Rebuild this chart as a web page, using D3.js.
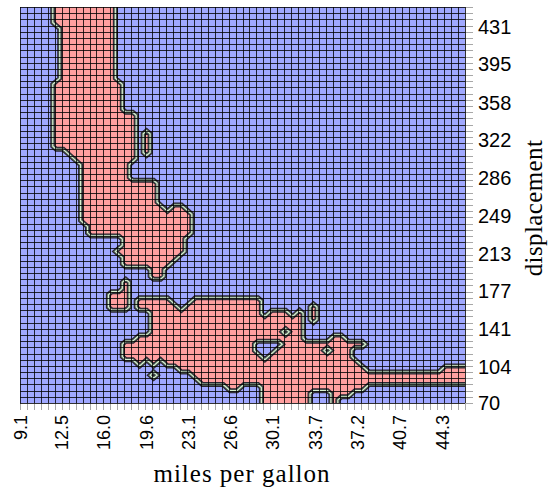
<!DOCTYPE html>
<html>
<head>
<meta charset="utf-8">
<script src="https://cdn.jsdelivr.net/npm/d3@7"></script>
<style>
  html, body { margin: 0; padding: 0; background: #fff; overflow: hidden; }
  svg { display: block; }
</style>
</head>
<body>
<div id="chart"></div>
<script>
const xTickLabels = ['9.1', '12.5', '16.0', '19.6', '23.1', '26.6', '30.1', '33.7', '37.2', '40.7', '44.3'];
const yTickLabels = ['70', '104', '141', '177', '213', '249', '286', '322', '358', '395', '431'];
const xRange = [9.058, 46.22];   // miles per gallon covered by the grid
const yRange = [69.7, 450.2];    // displacement covered by the grid
const gridCols = 64;
const gridRows = 64;

// cells classified red: [row (0 = top), first col, last col]
const redRuns = [
  [0, 5, 13], [1, 5, 13], [2, 5, 13],
  [3, 6, 13], [4, 6, 13], [5, 6, 13], [6, 6, 13], [7, 6, 13], [8, 6, 13], [9, 6, 13], [10, 6, 13], [11, 6, 13],
  [12, 5, 14], [13, 5, 14], [14, 5, 14], [15, 5, 14], [16, 5, 14],
  [17, 5, 16], [18, 5, 16], [19, 5, 16],
  [20, 5, 16], [20, 18, 18], [21, 5, 16], [21, 18, 18], [22, 5, 16], [22, 18, 18],
  [23, 7, 16], [23, 18, 18],
  [24, 8, 16],
  [25, 9, 15], [26, 9, 15], [27, 9, 15],
  [28, 9, 19], [29, 9, 19], [30, 9, 19], [31, 9, 19],
  [32, 9, 20], [32, 22, 23],
  [33, 9, 24], [34, 9, 24],
  [35, 10, 24], [36, 10, 24],
  [37, 15, 23], [38, 15, 23], [39, 14, 23], [40, 15, 22], [41, 15, 21],
  [42, 19, 20], [43, 19, 20],
  [44, 15, 15], [45, 15, 15],
  [46, 13, 15],
  [47, 13, 15], [47, 17, 21], [47, 25, 34],
  [48, 13, 15], [48, 17, 22], [48, 24, 34], [48, 42, 42],
  [49, 19, 34], [49, 36, 38], [49, 40, 40], [49, 42, 42],
  [50, 19, 40], [50, 42, 42],
  [51, 19, 40],
  [52, 19, 37], [52, 39, 40],
  [53, 17, 40], [53, 45, 46],
  [54, 15, 33], [54, 38, 49],
  [55, 15, 33], [55, 37, 43], [55, 45, 47],
  [56, 15, 34], [56, 36, 47],
  [57, 17, 17], [57, 19, 19], [57, 21, 48],
  [58, 23, 49], [58, 61, 63],
  [59, 19, 19], [59, 25, 63],
  [60, 26, 63],
  [61, 30, 31], [61, 35, 49],
  [62, 35, 41], [62, 45, 47],
  [63, 35, 41], [63, 45, 45]
];

const width = 548;
const height = 487;
const margin = { top: 7, right: 83, bottom: 84, left: 20 };
const innerWidth = width - margin.left - margin.right;
const innerHeight = height - margin.top - margin.bottom;
const blue = '#a0a8ff';
const red = '#ffa0a0';
const shiftX = -2; // class grid sits slightly left of the drawn grid

const x = d3.scaleLinear().domain(xRange).range([0, innerWidth]);
const y = d3.scaleLinear().domain(yRange).range([innerHeight, 0]);
const cellW = (xRange[1] - xRange[0]) / gridCols;
const cellH = (yRange[1] - yRange[0]) / gridRows;

// mask, padded by one cell on each side (edge values repeated) so contours run off the plot
const mask = Array.from({ length: gridRows }, () => new Array(gridCols).fill(0));
redRuns.forEach(([r, c0, c1]) => {
  for (let c = c0; c <= c1; c++) mask[r][c] = 1;
});
const pw = gridCols + 2, ph = gridRows + 2;
const values = new Array(pw * ph);
for (let r = 0; r < ph; r++) {
  for (let c = 0; c < pw; c++) {
    const rr = Math.min(gridRows - 1, Math.max(0, r - 1));
    const cc = Math.min(gridCols - 1, Math.max(0, c - 1));
    values[r * pw + c] = mask[rr][cc];
  }
}
const contours = d3.contours().size([pw, ph]).thresholds([0.5])(values);

const projection = d3.geoTransform({
  point: function (gx, gy) {
    this.stream.point(
      x(xRange[0] + (gx - 1) * cellW) + shiftX,
      y(yRange[1] - (gy - 1) * cellH)
    );
  }
});
const path = d3.geoPath(projection);

const svg = d3.select('#chart')
  .append('svg')
  .attr('width', width)
  .attr('height', height)
  .append('g')
  .attr('transform', `translate(${margin.left},${margin.top})`);

svg.append('clipPath').attr('id', 'plot-clip')
  .append('rect').attr('width', innerWidth).attr('height', innerHeight);

const plot = svg.append('g').attr('clip-path', 'url(#plot-clip)');

plot.append('rect')
  .attr('width', innerWidth)
  .attr('height', innerHeight)
  .attr('fill', blue);

plot.selectAll('path.fill')
  .data(contours)
  .enter()
  .append('path')
  .attr('class', 'fill')
  .attr('d', path)
  .attr('fill', red);

// grid lines, one per cell edge
const xEdges = d3.range(gridCols + 1).map(i => x(xRange[0] + i * cellW));
const yEdges = d3.range(gridRows + 1).map(j => y(yRange[0] + j * cellH));

svg.append('g')
  .selectAll('line')
  .data(xEdges)
  .enter()
  .append('line')
  .attr('x1', d => Math.round(d) + 0.5)
  .attr('x2', d => Math.round(d) + 0.5)
  .attr('y1', innerHeight)
  .attr('y2', innerHeight + 7)
  .attr('stroke', '#a8a8a8');

svg.append('g')
  .selectAll('line')
  .data(yEdges)
  .enter()
  .append('line')
  .attr('y1', d => Math.round(d) + 0.5)
  .attr('y2', d => Math.round(d) + 0.5)
  .attr('x1', innerWidth)
  .attr('x2', innerWidth + 8)
  .attr('stroke', '#a8a8a8');

const grid = svg.append('g').attr('stroke', '#000').attr('stroke-opacity', 0.8);
grid.selectAll('line.v')
  .data(xEdges)
  .enter()
  .append('line')
  .attr('class', 'v')
  .attr('x1', d => Math.round(d) + 0.5)
  .attr('x2', d => Math.round(d) + 0.5)
  .attr('y1', 0)
  .attr('y2', innerHeight);
grid.selectAll('line.h')
  .data(yEdges)
  .enter()
  .append('line')
  .attr('class', 'h')
  .attr('y1', d => Math.round(d) + 0.5)
  .attr('y2', d => Math.round(d) + 0.5)
  .attr('x1', 0)
  .attr('x2', innerWidth);

// contour outline: dark casing with a light core
[
  { w: 5, c: '#2a2230' },
  { w: 3, c: '#4a5a52' },
  { w: 1.2, c: '#d8f0d0' }
].forEach(s => {
  plot.selectAll(null)
    .data(contours)
    .enter()
    .append('path')
    .attr('d', path)
    .attr('fill', 'none')
    .attr('stroke', s.c)
    .attr('stroke-width', s.w)
    .attr('stroke-linejoin', 'miter');
});

// Eje X
const xTickValues = xTickLabels.map(Number);
svg.append('g')
  .attr('transform', `translate(0,${innerHeight})`)
  .call(d3.axisBottom(x).tickValues(xTickValues).tickSize(0).tickFormat((d, i) => xTickLabels[i]))
  .call(g => g.select('.domain').remove())
  .selectAll('text')
  .attr('x', null)
  .attr('y', null)
  .attr('dy', '0.36em')
  .attr('transform', 'translate(0,12) rotate(-90)')
  .style('text-anchor', 'end')
  .style('font-family', '"Liberation Sans", Arial, sans-serif')
  .style('font-size', '18px')
  .style('fill', '#000');

// Eje Y
const yTickValues = yTickLabels.map(Number);
svg.append('g')
  .attr('transform', `translate(${innerWidth},0)`)
  .call(d3.axisRight(y).tickValues(yTickValues).tickSize(0).tickPadding(13).tickFormat((d, i) => yTickLabels[i]))
  .call(g => g.select('.domain').remove())
  .selectAll('text')
  .style('font-family', '"Liberation Sans", Arial, sans-serif')
  .style('font-size', '20px')
  .style('fill', '#000');

svg.append('text')
  .attr('x', 222)
  .attr('y', 474.7)
  .attr('text-anchor', 'middle')
  .style('font-family', '"Liberation Serif", "Times New Roman", serif')
  .style('font-size', '25px')
  .style('letter-spacing', '1px')
  .text('miles per gallon');

svg.append('text')
  .attr('transform', `translate(521.7,201) rotate(-90)`)
  .attr('text-anchor', 'middle')
  .style('font-family', '"Liberation Serif", "Times New Roman", serif')
  .style('font-size', '25px')
  .style('letter-spacing', '0.4px')
  .text('displacement');
</script>
</body>
</html>
